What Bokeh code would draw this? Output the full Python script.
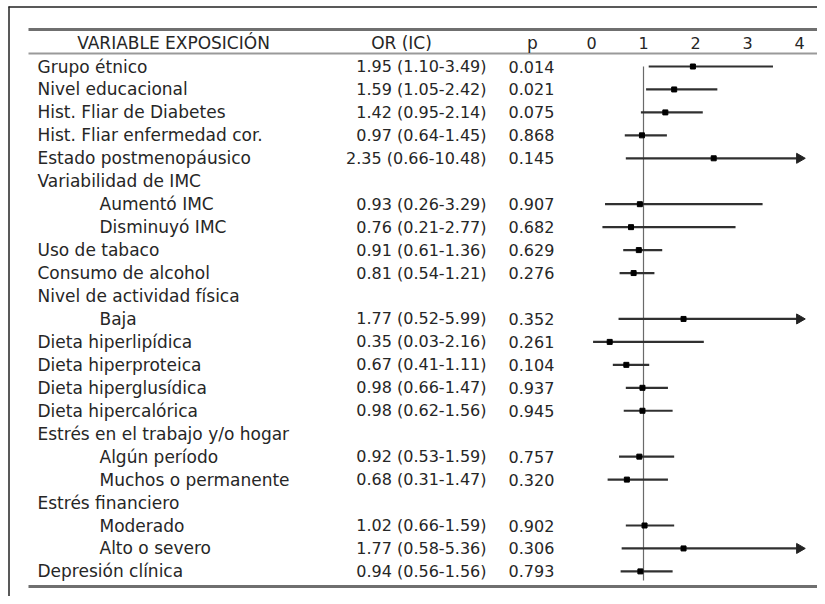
import numpy as np
from bokeh.plotting import figure
from bokeh.models import Range1d, ColumnDataSource
from bokeh.core.properties import value
from bokeh.embed import file_html
from bokeh.resources import INLINE

# ---------------- data ----------------
labels = ["Grupo étnico", "Nivel educacional", "Hist. Fliar de Diabetes",
          "Hist. Fliar enfermedad cor.", "Estado postmenopáusico", "Variabilidad de IMC",
          "Aumentó IMC", "Disminuyó  IMC", "Uso de tabaco", "Consumo de alcohol",
          "Nivel de actividad física", "Baja", "Dieta hiperlipídica", "Dieta hiperproteica",
          "Dieta hiperglusídica", "Dieta hipercalórica", "Estrés en el trabajo y/o hogar",
          "Algún período", "Muchos o permanente", "Estrés financiero", "Moderado",
          "Alto o severo", "Depresión clínica"]
indent = [0, 0, 0, 0, 0, 0, 1, 1, 0, 0, 0, 1, 0, 0, 0, 0, 0, 1, 1, 0, 1, 1, 0]
odds = [1.95, 1.59, 1.42, 0.97, 2.35, None, 0.93, 0.76, 0.91, 0.81, None, 1.77, 0.35,
        0.67, 0.98, 0.98, None, 0.92, 0.68, None, 1.02, 1.77, 0.94]
ci_low = [1.10, 1.05, 0.95, 0.64, 0.66, None, 0.26, 0.21, 0.61, 0.54, None, 0.52, 0.03,
          0.41, 0.66, 0.62, None, 0.53, 0.31, None, 0.66, 0.58, 0.56]
ci_high = [3.49, 2.42, 2.14, 1.45, 10.48, None, 3.29, 2.77, 1.36, 1.21, None, 5.99, 2.16,
           1.11, 1.47, 1.56, None, 1.59, 1.47, None, 1.59, 5.36, 1.56]
p_values = [0.014, 0.021, 0.075, 0.868, 0.145, None, 0.907, 0.682, 0.629, 0.276, None,
            0.352, 0.261, 0.104, 0.937, 0.945, None, 0.757, 0.320, None, 0.902, 0.306, 0.793]
headers = ["VARIABLE EXPOSICIÓN", "OR (IC)", "p"]
tick_values = [0, 1, 2, 3, 4]
tick_labels = ["0", "1", "2", "3", "4"]
axis_cap = 4.0  # intervals beyond this are drawn as arrows

# ---------------- layout ----------------
W, H = 817, 596
FONT = value("DejaVu Sans")
FS_LAB = "17px"
FS_NUM = "16px"
TXT = "#262626"

p = figure(width=W, height=H, x_range=Range1d(0, W), y_range=Range1d(H, 0),
           output_backend="svg", toolbar_location=None, min_border=0,
           x_axis_location=None, y_axis_location=None)
p.grid.visible = False
p.outline_line_color = None
p.background_fill_color = "white"

# OR scale: 1 -> x=643, 52 px per unit
px_per = 52.0
one_at = 643.0
or_start = 1 - one_at / px_per
p.extra_x_ranges = {"or": Range1d(or_start, or_start + W / px_per)}

n = len(labels)
row0, step = 66.0, 22.95
row_y = [row0 + i * step for i in range(n)]
head_y = 42

# frame lines (top and left border of the scanned box)
p.segment(x0=[8, 8.5], y0=[6.5, 6], x1=[W, 8.5], y1=[6.5, H], line_color="#222222", line_width=1.5)
# table rules
p.segment(x0=[28], y0=[29], x1=[W], y1=[29], line_color="#6f6f6f", line_width=3)
p.segment(x0=[28], y0=[53], x1=[W], y1=[53], line_color="#9a9a9a", line_width=2)
p.segment(x0=[28], y0=[586], x1=[W], y1=[586], line_color="#6f6f6f", line_width=3)

# header texts
p.text(x=[173, 401], y=[head_y] * 2, text=headers[:2], text_font=FONT, text_font_size=FS_LAB,
       text_align="center", text_baseline="middle", text_color=TXT)
p.text(x=[532], y=[head_y], text=headers[2:], text_font=FONT, text_font_size=FS_LAB,
       text_align="center", text_baseline="middle", text_color=TXT)
p.text(x=tick_values, y=[head_y] * len(tick_values), text=tick_labels, x_range_name="or",
       text_font=FONT, text_font_size=FS_NUM, text_align="center", text_baseline="middle",
       text_color=TXT)

# label column
lab_x = [99 if ind else 37 for ind in indent]
p.text(x=lab_x, y=row_y, text=labels, text_font=FONT, text_font_size=FS_LAB,
       text_align="left", text_baseline="middle", text_color=TXT)

# OR (IC) and p columns
rows = [i for i in range(n) if odds[i] is not None]
or_txt = [f"{odds[i]:.2f} ({ci_low[i]:.2f}-{ci_high[i]:.2f})" for i in rows]
p_txt = [f"{p_values[i]:.3f}" for i in rows]
ys = [row_y[i] for i in rows]
p.text(x=[486] * len(rows), y=ys, text=or_txt, text_font=FONT, text_font_size=FS_NUM,
       text_align="right", text_baseline="middle", text_color=TXT)
p.text(x=[531] * len(rows), y=ys, text=p_txt, text_font=FONT, text_font_size=FS_NUM,
       text_align="center", text_baseline="middle", text_color=TXT)

# reference line at OR = 1
p.segment(x0=[1], y0=[row_y[0]], x1=[1], y1=[row_y[-1] + 9], x_range_name="or",
          line_color="#6a6a6a", line_width=1.2)

# confidence intervals
src = ColumnDataSource(dict(
    y=ys,
    lo=[ci_low[i] for i in rows],
    hi=[min(ci_high[i], axis_cap) for i in rows],
    orv=[odds[i] for i in rows],
))
p.segment(x0="lo", y0="y", x1="hi", y1="y", source=src, x_range_name="or",
          line_color="#303030", line_width=2.2)
p.scatter(x="orv", y="y", source=src, x_range_name="or", marker="square", size=5,
          fill_color="black", line_color="black")

# arrows for intervals beyond the axis
arr = [i for i in rows if ci_high[i] > axis_cap]
p.scatter(x=[axis_cap] * len(arr), y=[row_y[i] for i in arr], x_range_name="or",
          marker="triangle", angle=-np.pi / 2, size=10, fill_color="#222222",
          line_color="#222222")

open("out.html", "w").write(file_html(p, INLINE))
